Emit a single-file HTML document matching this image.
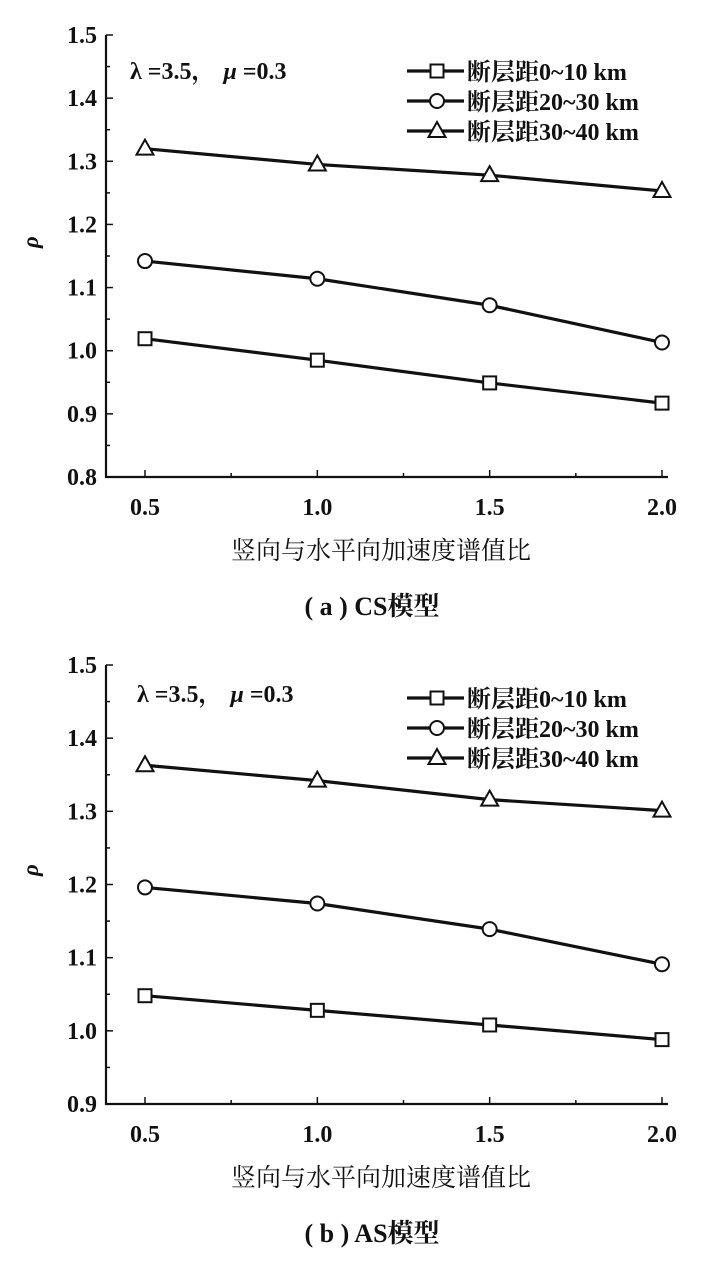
<!DOCTYPE html>
<html><head><meta charset="utf-8">
<style>
html,body{margin:0;padding:0;background:#fff;}
svg{display:block;}
text{font-family:"Liberation Serif","Noto Serif CJK SC",serif;fill:#111;}
</style></head>
<body>
<svg id="fig" width="720" height="1266" viewBox="0 0 720 1266"></svg>
<script>
const xCats = [0.5, 1.0, 1.5, 2.0];
const xTickLabels = ["0.5", "1.0", "1.5", "2.0"];
const seriesNames = ["断层距0~10 km", "断层距20~30 km", "断层距30~40 km"];
const csSquare = [1.019, 0.985, 0.949, 0.917];
const csCircle = [1.142, 1.114, 1.072, 1.013];
const csTriangle = [1.320, 1.295, 1.278, 1.253];
const asSquare = [1.048, 1.028, 1.008, 0.988];
const asCircle = [1.196, 1.174, 1.139, 1.091];
const asTriangle = [1.363, 1.342, 1.316, 1.301];
const csYTicks = ["0.8", "0.9", "1.0", "1.1", "1.2", "1.3", "1.4", "1.5"];
const asYTicks = ["0.9", "1.0", "1.1", "1.2", "1.3", "1.4", "1.5"];

const NS = "http://www.w3.org/2000/svg";
const svg = document.getElementById("fig");
function mk(tag, attrs, parent, txt) {
  const e = document.createElementNS(NS, tag);
  for (const k in attrs) e.setAttribute(k, attrs[k]);
  if (txt !== undefined) e.textContent = txt;
  (parent || svg).appendChild(e);
  return e;
}
function marker(g, kind, cx, cy) {
  let m;
  if (kind === 0) m = mk("rect", {x: cx - 6.5, y: cy - 6.5, width: 13, height: 13, fill: "#fff", stroke: "#111", "stroke-width": 2}, g);
  else if (kind === 1) m = mk("circle", {cx: cx, cy: cy, r: 7, fill: "#fff", stroke: "#111", "stroke-width": 2}, g);
  else m = mk("polygon", {points: `${cx},${cy - 9} ${cx - 8.5},${cy + 6} ${cx + 8.5},${cy + 6}`, fill: "#fff", stroke: "#111", "stroke-width": 2}, g);
  return m;
}
function chart(cfg) {
  const g = mk("g", {});
  
  
  const x0 = 106, xEnd = 668;
  const xs = v => 145 + (v - 0.5) / 1.5 * (662 - 145);
  const ys = v => cfg.yBot - (v - cfg.yMin) / (cfg.yMax - cfg.yMin) * (cfg.yBot - cfg.yTop);
  const axes = mk("path", {d: `M${x0},${cfg.yTop} V${cfg.yBot} H${xEnd}`, fill: "none", stroke: "#111", "stroke-width": 2.2}, g);
  
  
  for (let v = cfg.yMin; v <= cfg.yMax + 1e-9; v += 0.05) {
    const y = ys(v);
    const major = Math.abs(Math.round(v * 10) - v * 10) < 1e-6;
    mk("line", {x1: x0, x2: x0 + (major ? 7 : 4), y1: y, y2: y, stroke: "#111", "stroke-width": 1.5}, g);
  }
  cfg.yTicks.forEach(t => {
    const tl = mk("text", {x: 97, y: ys(parseFloat(t)) + 8, "text-anchor": "end", "font-size": 24, "font-weight": "bold"}, g, t);
    
    
  });
  for (let v = 0.5; v <= 2.0 + 1e-9; v += 0.25) {
    const x = xs(v);
    const major = Math.abs(v * 2 - Math.round(v * 2)) < 1e-6;
    mk("line", {x1: x, x2: x, y1: cfg.yBot, y2: cfg.yBot - (major ? 7 : 4), stroke: "#111", "stroke-width": 1.5}, g);
  }
  xCats.forEach((c, i) => {
    const tl = mk("text", {x: xs(c), y: cfg.yBot + 38, "text-anchor": "middle", "font-size": 24, "font-weight": "bold"}, g, xTickLabels[i]);
    
    
  });
  cfg.series.forEach((s, k) => {
    const sg = mk("g", {}, g);
    
    
    const pts = xCats.map((c, i) => xs(c) + "," + ys(s[i])).join(" ");
    mk("polyline", {points: pts, fill: "none", stroke: "#111", "stroke-width": 3.2}, sg);
    xCats.forEach((c, i) => {
      const m = marker(sg, k, xs(c), ys(s[i]));
      
      
    });
  });
  const an = mk("text", {x: cfg.annX, y: cfg.annY, "font-size": 24, "font-weight": "bold"}, g);
  
  
  an.innerHTML = '<tspan>λ =3.5，</tspan><tspan dx="8" font-style="italic">μ</tspan><tspan> =0.3</tspan>';
  const lg = mk("g", {}, g);
  
  
  seriesNames.forEach((n, k) => {
    const y = cfg.legY + k * 30;
    const le = mk("g", {}, lg);
    
    
    mk("line", {x1: 407, x2: 464, y1: y, y2: y, stroke: "#111", "stroke-width": 3.2}, le);
    marker(le, k, 437, y);
    mk("text", {x: 467, y: y + 9, "font-size": 24, "font-weight": "bold"}, le, n);
  });
  const rho = mk("text", {x: 38, y: cfg.rhoY, "font-size": 23, "font-weight": "bold", "font-style": "italic", "text-anchor": "middle", transform: `rotate(-90 38 ${cfg.rhoY})`}, g, "ρ");
  
  
  const xt = mk("text", {x: 381, y: cfg.yBot + 82, "text-anchor": "middle", "font-size": 25}, g, "竖向与水平向加速度谱值比");
  
  
  const cap = mk("text", {x: 372, y: cfg.yBot + 138, "text-anchor": "middle", "font-size": 26, "font-weight": "bold"}, g, cfg.caption);
  
  
}
chart({name: "chart-cs", yTop: 35, yBot: 477, yMin: 0.8, yMax: 1.5, yTicks: csYTicks,
  series: [csSquare, csCircle, csTriangle], annX: 130, annY: 79, legY: 71, rhoY: 242, caption: "( a ) CS模型"});
chart({name: "chart-as", yTop: 665, yBot: 1104, yMin: 0.9, yMax: 1.5, yTicks: asYTicks,
  series: [asSquare, asCircle, asTriangle], annX: 137, annY: 702, legY: 698, rhoY: 870, caption: "( b ) AS模型"});
</script>
</body></html>
